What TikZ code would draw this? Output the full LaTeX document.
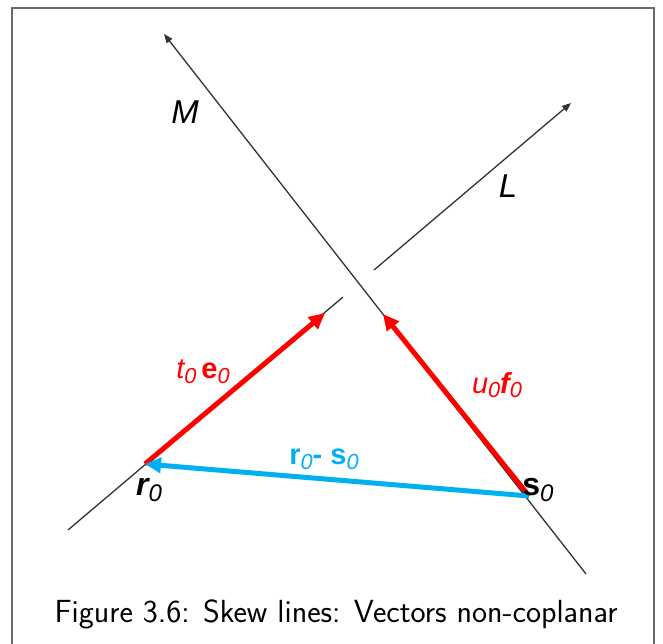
\documentclass[tikz,border=0pt]{standalone}
\usepackage{fontspec}
\usepackage{graphicx}
\usetikzlibrary{arrows.meta}
\newfontfamily\arialfont{Liberation Sans}
\definecolor{vred}{RGB}{255,0,0}
\definecolor{vblue}{RGB}{0,176,240}
\definecolor{framegray}{RGB}{105,105,105}
\newcommand{\idx}[1]{\raisebox{-0.3ex}{\scalebox{0.75}{\normalfont\arialfont\itshape #1}}}
\tikzset{
	skewline/.style={line width=1.3pt, draw=black!80, -{Triangle[length=9pt, width=7pt]}},
	vecred/.style={line width=5pt, draw=vred, -{Triangle[length=16pt, width=15pt]}},
	vecblue/.style={line width=5pt, draw=vblue, -{Triangle[length=16pt, width=15pt]}},
	biglbl/.style={font=\fontsize{33}{37}\selectfont\arialfont\itshape},
	veclbl/.style={font=\fontsize{29}{33}\selectfont\arialfont},
	ptlbl/.style={font=\fontsize{32}{36}\selectfont\arialfont\bfseries}
}

\begin{document}
\begin{tikzpicture}[x=1pt, y=-1pt]
	\useasboundingbox (0,0) rectangle (663,644);
	\draw[framegray, line width=1.5pt] (12,660) -- (12,8) -- (654,8) -- (654,660);
	
	\coordinate (Mtop) at (164,34);
	\coordinate (Mbot) at (586,574);
	\coordinate (Lbot) at (68,530);
	\coordinate (Ltop) at (571,103);
	\coordinate (Lgap1) at (343,297);
	\coordinate (Lgap2) at (374,270);
	\coordinate (r0) at (145,464);
	\coordinate (s0) at (529,496);
	\coordinate (tipL) at (325,313);
	\coordinate (tipM) at (383,314);
	
	% the two skew lines, L broken where M passes
	\draw[skewline] (Mbot) -- (Mtop);
	\draw[line width=1.3pt, black!80] (Lbot) -- (Lgap1);
	\draw[skewline] (Lgap2) -- (Ltop);
	
	\draw[vecred] (r0) -- (tipL);
	\draw[vecred] (s0) -- (tipM);
	\draw[vecblue] (s0) -- (r0);
	
	\node[biglbl] (labM) at (185,112) {M};
	\node[biglbl] (labL) at (508,186) {L};
	\node[veclbl, text=vred] (labT) at (203,372) {\itshape t\idx{0}\,\upshape\bfseries e\idx{0}};
	\node[veclbl, text=vred] (labU) at (497,385) {\itshape u\idx{0}\bfseries f\idx{0}};
	\node[veclbl, text=vblue, font=\fontsize{29}{33}\selectfont\arialfont\bfseries] (labRS) at (324,459) {r\idx{0}- s\idx{0}};
	\node[ptlbl] (labR) at (149,490) {\itshape r\idx{0}};
	\node[ptlbl] (labS) at (538,490) {s\idx{0}};
	
	\node[font=\fontsize{32}{37}\selectfont\sffamily] (caption) at (336,614) {Figure 3.6: Skew lines: Vectors non-coplanar};
\end{tikzpicture}
\end{document}
